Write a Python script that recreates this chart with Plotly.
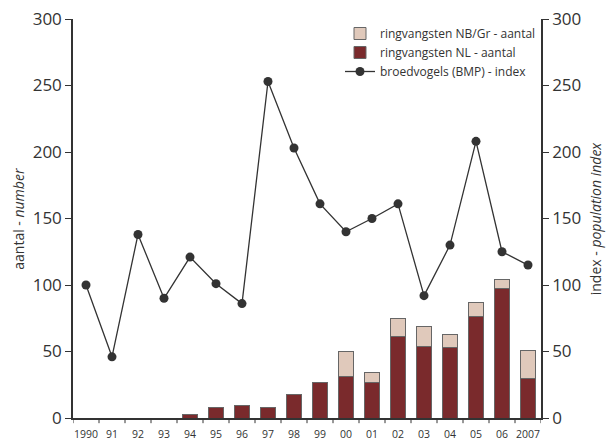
import plotly.graph_objects as go

years = list(range(1990, 2008))
tick_labels = ["1990", "91", "92", "93", "94", "95", "96", "97", "98", "99",
               "00", "01", "02", "03", "04", "05", "06", "2007"]
ring_nl = [0, 0, 0, 0, 3, 8, 9.5, 8, 18, 27, 31, 27, 61, 54, 53, 76, 97, 29.5]
ring_nbgr = [0, 0, 0, 0, 0, 0, 0, 0, 0, 0, 19, 7, 14, 15, 10, 11, 7, 21.5]
bmp_index = [100, 46, 138, 90, 121, 101, 86, 253, 203, 161, 140, 150, 161, 92, 130, 208, 125, 115]

dark = "#7a2a2c"
light = "#e0c9bb"
font = "Open Sans"

fig = go.Figure()
fig.add_trace(go.Bar(x=years, y=ring_nl, name="ringvangsten NL - aantal",
                     marker=dict(color=dark, line=dict(color="#666", width=1)),
                     width=0.54, legendrank=2))
fig.add_trace(go.Bar(x=years, y=ring_nbgr, name="ringvangsten NB/Gr - aantal",
                     marker=dict(color=light, line=dict(color="#666", width=1)),
                     width=0.54, legendrank=1))
fig.add_trace(go.Scatter(x=years, y=bmp_index, name="broedvogels (BMP) - index",
                         mode="lines+markers", yaxis="y2",
                         line=dict(color="#333", width=1.3),
                         marker=dict(color="#333", size=9), legendrank=3))

fig.update_layout(
    width=609, height=441,
    margin=dict(l=73, r=68, t=19, b=23, autoexpand=False),
    paper_bgcolor="white", plot_bgcolor="white",
    barmode="stack",
    font=dict(family=font, color="#333"),
    showlegend=True,
    legend=dict(x=1.0, y=1.0, xanchor="right", yanchor="top", traceorder="normal",
                font=dict(size=12, family=font, color="#333"),
                bgcolor="rgba(0,0,0,0)", tracegroupgap=0, itemwidth=30),
    xaxis=dict(range=[1989.5, 2007.5], tickmode="array", tickvals=years,
               ticktext=tick_labels, tickfont=dict(size=10.5), ticks="",
               ticklabelstandoff=6,
               showline=True, linecolor="#333", linewidth=1.5, automargin=False,
               showgrid=False, zeroline=False, fixedrange=True),
    yaxis=dict(range=[0, 300], tickvals=[0, 50, 100, 150, 200, 250, 300],
               ticks="outside", ticklen=6, tickcolor="#333", automargin=False,
               tickfont=dict(size=17), showline=True, linecolor="#333", linewidth=1.5,
               showgrid=False, zeroline=False),
    yaxis2=dict(range=[0, 300], tickvals=[0, 50, 100, 150, 200, 250, 300],
                overlaying="y", side="right", automargin=False,
                ticks="outside", ticklen=6, tickcolor="#333",
                tickfont=dict(size=17), showline=True, linecolor="#333", linewidth=1.5,
                showgrid=False, zeroline=False),
    annotations=[
        dict(text="aantal - <i>number</i>", xref="paper", yref="paper",
             x=-0.117, y=0.5, xanchor="center", yanchor="middle", textangle=-90,
             showarrow=False, font=dict(size=14, family=font, color="#333")),
        dict(text="index - <i>population index</i>", xref="paper", yref="paper",
             x=1.117, y=0.5, xanchor="center", yanchor="middle", textangle=-90,
             showarrow=False, font=dict(size=14, family=font, color="#333")),
    ],
)

# boundary tick marks on x axis
for b in [y - 0.5 for y in years] + [2007.5]:
    fig.add_shape(type="line", xref="x", yref="paper", x0=b, x1=b, y0=0, y1=-0.013,
                  line=dict(color="#333", width=1))

fig.write_html("out.html", config={"displayModeBar": False},
               post_script="document.body.style.margin='0';document.documentElement.style.overflow='hidden';")
